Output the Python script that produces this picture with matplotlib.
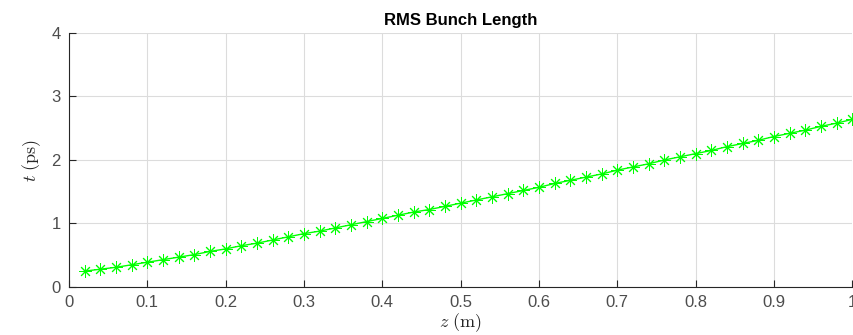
import matplotlib
matplotlib.use('Agg')
import matplotlib.pyplot as plt

# rms bunch length along the beamline
z_m = [0.02, 0.04, 0.06, 0.08, 0.10, 0.12, 0.14, 0.16, 0.18, 0.20,
       0.22, 0.24, 0.26, 0.28, 0.30, 0.32, 0.34, 0.36, 0.38, 0.40,
       0.42, 0.44, 0.46, 0.48, 0.50, 0.52, 0.54, 0.56, 0.58, 0.60,
       0.62, 0.64, 0.66, 0.68, 0.70, 0.72, 0.74, 0.76, 0.78, 0.80,
       0.82, 0.84, 0.86, 0.88, 0.90, 0.92, 0.94, 0.96, 0.98, 1.00]
t_ps = [0.25, 0.28, 0.31, 0.35, 0.39, 0.43, 0.47, 0.51, 0.56, 0.60,
        0.65, 0.69, 0.74, 0.79, 0.84, 0.88, 0.93, 0.98, 1.03, 1.08,
        1.13, 1.18, 1.22, 1.27, 1.32, 1.37, 1.42, 1.47, 1.52, 1.57,
        1.63, 1.68, 1.73, 1.78, 1.84, 1.89, 1.94, 2.00, 2.05, 2.10,
        2.15, 2.21, 2.26, 2.31, 2.37, 2.42, 2.47, 2.53, 2.58, 2.64]

x_ticks = [0, 0.1, 0.2, 0.3, 0.4, 0.5, 0.6, 0.7, 0.8, 0.9, 1]
x_ticklabels = ['0', '0.1', '0.2', '0.3', '0.4', '0.5', '0.6', '0.7', '0.8', '0.9', '1']
y_ticks = [0, 1, 2, 3, 4]

plt.rcParams['font.family'] = ['Liberation Sans', 'DejaVu Sans']
plt.rcParams['mathtext.fontset'] = 'cm'

fig = plt.figure(figsize=(8.54, 3.35), dpi=100)
ax = fig.add_axes([0.0808, 0.1433, 0.9172, 0.7582])

# 8-armed asterisk marker
ax.plot(z_m, t_ps, color='#00ff00', linewidth=1.0, marker=(8, 2, 0),
        markersize=9, markeredgewidth=0.7, clip_on=False)

ax.set_xlim(0, 1)
ax.set_ylim(0, 4)
ax.set_xticks(x_ticks)
ax.set_xticklabels(x_ticklabels)
ax.set_yticks(y_ticks)
ax.grid(True, color='#dcdcdc', linewidth=0.8)
ax.set_axisbelow(True)

for side in ('top', 'right'):
    ax.spines[side].set_visible(False)
for side in ('left', 'bottom'):
    ax.spines[side].set_color('#262626')
    ax.spines[side].set_linewidth(0.8)
ax.tick_params(direction='in', length=5, width=0.8, color='#262626',
               labelcolor='#4d4d4d', labelsize=12, pad=6)

ax.set_xlabel(r'$z\ \mathrm{(m)}$', fontsize=13, color='#262626', labelpad=1)
ax.set_ylabel(r'$t\ \mathrm{(ps)}$', fontsize=13, color='#262626', labelpad=6)
ax.set_title('RMS Bunch Length', fontsize=12, fontweight='bold', color='black', pad=6)

fig.savefig('out.png', dpi=100)
